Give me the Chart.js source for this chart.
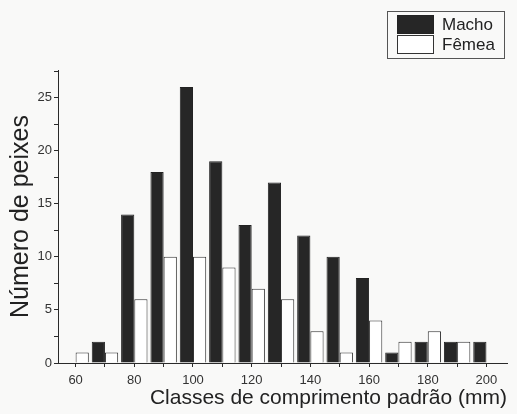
<!DOCTYPE html>
<html>
<head>
<meta charset="utf-8">
<script src="https://cdn.jsdelivr.net/npm/chart.js@4"></script>
<style>
  html, body { margin: 0; padding: 0; background: #f9f9f8; }
  #wrap { position: relative; width: 517px; height: 414px; }
  #legend {
    position: absolute; left: 387px; top: 11px; width: 118px; height: 48px;
    border: 1px solid #555; box-sizing: border-box;
    font-family: "Liberation Sans", Arial, sans-serif; font-size: 17px; color: #222;
  }
  .item { position: absolute; left: 9px; height: 19px; display: flex; align-items: center; }
  .swatch { width: 37px; height: 19px; box-sizing: border-box; margin-right: 8px; }
</style>
</head>
<body>
<div id="wrap">
  <canvas id="chart" width="517" height="414"></canvas>
  <div id="legend"></div>
</div>
<script>
// length classes (mm) and counts per sex
const classes = [60, 70, 80, 90, 100, 110, 120, 130, 140, 150, 160, 170, 180, 190, 200];
const macho = [0, 2, 14, 18, 26, 19, 13, 17, 12, 10, 8, 1, 2, 2, 2];
const femea = [1, 1, 6, 10, 10, 9, 7, 6, 3, 1, 4, 2, 3, 2, 0];

// axis ticks (labels only on the major ones)
const xTicks = [60, 70, 80, 90, 100, 110, 120, 130, 140, 150, 160, 170, 180, 190, 200];
const xLabels = [60, 80, 100, 120, 140, 160, 180, 200];
const yTicks = [0, 2.5, 5, 7.5, 10, 12.5, 15, 17.5, 20, 22.5, 25, 27.5];
const yLabels = [0, 5, 10, 15, 20, 25];

const seriesNames = ["Macho", "Fêmea"];

const font = "'Liberation Sans', Arial, sans-serif";
const ink = "#2a2a2a";

const toPoints = (vals) => classes.map((c, i) => ({x: c, y: vals[i]}));

const ctx = document.getElementById("chart").getContext("2d");
const chart = new Chart(ctx, {
    type: "bar",
    data: {
        datasets: [{
            label: seriesNames[0], data: toPoints(macho),
            backgroundColor: "#262626", borderColor: "#222", borderWidth: 1,
        }, {
            label: seriesNames[1], data: toPoints(femea),
            backgroundColor: "#ffffff", borderColor: "#333", borderWidth: 1,
        }],
    },
    options: {
        responsive: false, animation: false,
        categoryPercentage: 0.9, barPercentage: 1.0,
        layout: {padding: {left: 0, right: 10, top: 70, bottom: 0}},
        plugins: {legend: {display: false}, tooltip: {enabled: false}},
        scales: {
            x: {
                type: "linear", min: 54, max: 207, offset: false,
                afterBuildTicks: (scale) => { scale.ticks = xTicks.map((v) => ({value: v})); },
                afterFit: (scale) => { scale.height = 51; },
                grid: {drawOnChartArea: false, drawTicks: true, tickLength: 4, tickColor: ink, offset: false},
                border: {display: true, color: ink, width: 1},
                ticks: {
                    autoSkip: false, maxRotation: 0, padding: 6, color: "#333",
                    font: {family: font, size: 13},
                    callback: (v) => xLabels.includes(v) ? String(v) : "",
                },
                title: {
                    display: true, text: "Classes de comprimento padrão (mm)", align: "end",
                    color: "#222", font: {family: font, size: 21}, padding: {top: 0, bottom: 3},
                },
            },
            y: {
                type: "linear", min: 0, max: 27.6,
                afterBuildTicks: (scale) => { scale.ticks = yTicks.map((v) => ({value: v})); },
                afterFit: (scale) => { scale.width = 58; },
                grid: {drawOnChartArea: false, drawTicks: true, tickLength: 4, tickColor: ink},
                border: {display: true, color: ink, width: 1},
                ticks: {
                    autoSkip: false, padding: 2, color: "#333",
                    font: {family: font, size: 13},
                    callback: (v) => yLabels.includes(v) ? String(v) : "",
                },
                title: {
                    display: true, text: "Número de peixes",
                    color: "#222", font: {family: font, size: 25}, padding: {top: 6, bottom: 0},
                },
            },
        },
    },
});

// legend as html, one row per series, stacked like the original
const legendBox = document.getElementById("legend");
chart.data.datasets.forEach((ds, i) => {
    const item = document.createElement("div");
    item.className = "item";
    item.style.top = (3 + i * 20) + "px";
    const sw = document.createElement("span");
    sw.className = "swatch";
    sw.style.background = ds.backgroundColor;
    sw.style.border = "1px solid " + ds.borderColor;
    item.appendChild(sw);
    item.appendChild(document.createTextNode(ds.label));
    legendBox.appendChild(item);
});
</script>
</body>
</html>
